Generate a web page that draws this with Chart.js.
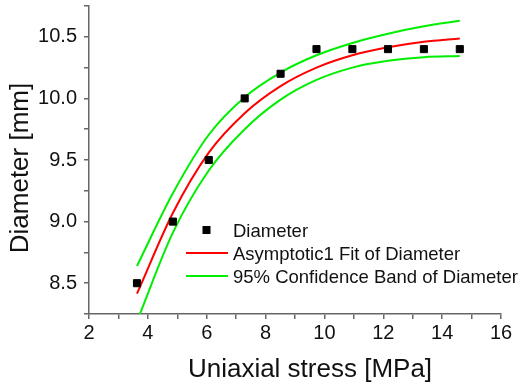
<!DOCTYPE html>
<html>
<head>
<meta charset="utf-8">
<script src="https://cdn.jsdelivr.net/npm/chart.js@4.4.0/dist/chart.umd.min.js"></script>
<style>
  html, body { margin: 0; padding: 0; background: #fff; }
  #wrap { width: 527px; height: 385px; }
</style>
</head>
<body>
<div id="wrap"><canvas id="chart"></canvas></div>
<script>
const stress = [3.63, 4.85, 6.07, 7.29, 8.51, 9.73, 10.95, 12.16, 13.38, 14.6]
const diameter = [8.5, 9.0, 9.5, 10.0, 10.2, 10.4, 10.4, 10.4, 10.4, 10.4]
const fitDiameter = [8.415, 9.07, 9.56, 9.88, 10.10, 10.25, 10.35, 10.415, 10.46, 10.487]
const bandUpper = [8.64, 9.23, 9.705, 10.01, 10.21, 10.35, 10.45, 10.525, 10.585, 10.63]
const bandLower = [8.19, 8.91, 9.415, 9.75, 9.99, 10.15, 10.25, 10.305, 10.335, 10.344]
const xTickLabels = [2, 4, 6, 8, 10, 12, 14, 16]
const yTickLabels = [8.5, 9.0, 9.5, 10.0, 10.5]

const font = '"Liberation Sans", Arial, sans-serif'
const axisColor = '#666'

const toPoints = (ys) => stress.map((x, i) => ({ x: x, y: ys[i] }))

// legend and axis titles sit at fixed spots, like in the original plot
const extras = {
  id: 'extras',
  afterDraw(chart) {
    const ctx = chart.ctx
    ctx.save()
    ctx.fillStyle = '#111'
    ctx.textBaseline = 'alphabetic'

    ctx.font = '18.5px ' + font
    ctx.textAlign = 'left'
    const rows = [230, 253, 276]
    chart.data.datasets.slice(0, 3).forEach((ds, i) => {
      const y = rows[i]
      if (ds.showLine === false) {
        ctx.fillStyle = '#000'
        ctx.fillRect(202.5, y - 4, 8, 8)
      } else {
        ctx.strokeStyle = ds.borderColor
        ctx.lineWidth = ds.borderWidth
        ctx.beginPath()
        ctx.moveTo(186, y)
        ctx.lineTo(228, y)
        ctx.stroke()
      }
      ctx.fillStyle = '#111'
      ctx.fillText(ds.label, 233, y + 6.6)
    })

    ctx.font = '26px ' + font
    ctx.textAlign = 'center'
    ctx.fillText('Uniaxial stress [MPa]', 310, 377)
    ctx.translate(28, 168)
    ctx.rotate(-Math.PI / 2)
    ctx.fillText('Diameter [mm]', 0, 0)
    ctx.restore()
  }
}

new Chart(document.getElementById('chart'), {
  type: 'scatter',
  data: {
    datasets: [
      {
        label: 'Diameter',
        data: toPoints(diameter),
        showLine: false,
        pointStyle: 'rect',
        pointRadius: 5,
        backgroundColor: '#000',
        borderColor: '#000',
        borderWidth: 1
      },
      {
        label: 'Asymptotic1 Fit of Diameter',
        data: toPoints(fitDiameter),
        showLine: true,
        borderColor: '#ff0000',
        borderWidth: 2,
        pointRadius: 0,
        cubicInterpolationMode: 'monotone'
      },
      {
        label: '95% Confidence Band of Diameter',
        data: toPoints(bandUpper),
        showLine: true,
        borderColor: '#00ee00',
        borderWidth: 2,
        pointRadius: 0,
        cubicInterpolationMode: 'monotone'
      },
      {
        label: '95% Confidence Band of Diameter (lower)',
        data: toPoints(bandLower),
        showLine: true,
        borderColor: '#00ee00',
        borderWidth: 2,
        pointRadius: 0,
        cubicInterpolationMode: 'monotone'
      }
    ]
  },
  options: {
    responsive: true,
    maintainAspectRatio: false,
    animation: false,
    layout: { padding: { top: 5, right: 26, left: 0, bottom: 0 } },
    plugins: {
      legend: { display: false },
      tooltip: { enabled: false }
    },
    scales: {
      x: {
        type: 'linear',
        min: 2,
        max: 16,
        afterFit: (scale) => {
          scale.height = 71
          scale.paddingLeft = 0
          scale.paddingRight = 0
        },
        ticks: {
          stepSize: 1,
          autoSkip: false,
          maxRotation: 0,
          padding: 2,
          color: '#111',
          font: { family: font, size: 20 },
          callback: (v) => xTickLabels.includes(v) ? String(v) : ''
        },
        grid: { drawOnChartArea: false, color: axisColor, tickLength: 5, lineWidth: 1.5 },
        border: { color: axisColor, width: 1.5 }
      },
      y: {
        type: 'linear',
        min: 8.25,
        max: 10.75,
        afterFit: (scale) => {
          scale.width = 89
          scale.paddingTop = 0
          scale.paddingBottom = 0
        },
        ticks: {
          stepSize: 0.25,
          autoSkip: false,
          padding: 7,
          color: '#111',
          font: { family: font, size: 20 },
          callback: (v) => yTickLabels.some(t => Math.abs(t - v) < 1e-6) ? v.toFixed(1) : ''
        },
        grid: { drawOnChartArea: false, color: axisColor, tickLength: 5, lineWidth: 1.5 },
        border: { color: axisColor, width: 1.5 }
      }
    }
  },
  plugins: [extras]
})
</script>
</body>
</html>
